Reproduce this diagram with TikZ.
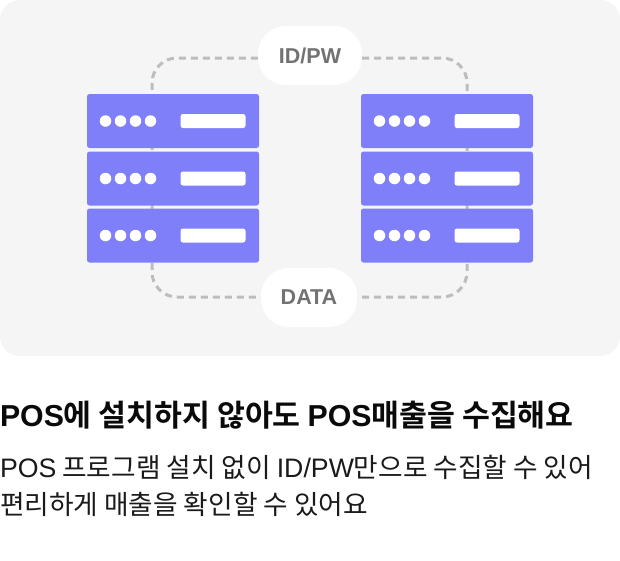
\documentclass[tikz,border=0pt]{standalone}
\usepackage{fontspec}
\setmainfont{Noto Sans CJK KR}[BoldFont={Noto Sans CJK KR Bold}]
\newfontfamily\lat{Liberation Sans}
\pgfdeclarelayer{backdrop}
\pgfdeclarelayer{conn}
\pgfsetlayers{backdrop,conn,main}
\definecolor{panelbg}{HTML}{F5F5F5}
\definecolor{serverfill}{HTML}{7F7FFA}
\definecolor{dashcol}{HTML}{BDBDBD}
\definecolor{labelcol}{HTML}{727272}
\definecolor{titlecol}{HTML}{0A0A0A}
\definecolor{bodycol}{HTML}{1A1A1A}
\tikzset{
  serverbox/.style={draw=none,fill=serverfill,rounded corners=2.5pt,minimum width=172pt,minimum height=54pt,inner sep=0pt},
  pill/.style={fill=white,rounded corners=28pt,inner sep=0pt,font=\fontsize{21.5}{22}\selectfont\bfseries\lat,text=labelcol},
  link/.style={draw=dashcol,line width=3pt,dash pattern=on 7pt off 5pt,rounded corners=25pt},
  led/.style={circle,fill=white,minimum size=11.5pt,inner sep=0pt},
  slot/.style={fill=white,rounded corners=2.5pt,minimum width=65pt,minimum height=14pt,inner sep=0pt},
  txt/.style={anchor=base west,inner sep=0pt,outer sep=0pt}
}
\begin{document}
\begin{tikzpicture}[x=1pt,y=-1pt]
\useasboundingbox (0,0) rectangle (620,560);
\begin{pgfonlayer}{backdrop}
  \fill[white] (0,0) rectangle (620,560);
  \fill[panelbg,rounded corners=20pt] (0,0) rectangle (620,356);
\end{pgfonlayer}
% servers
\foreach \side/\cx in {l/173,r/447}{
  \foreach \n/\cy in {1/121,2/178.5,3/235.5}{
    \node[serverbox] (\side\n) at (\cx,\cy) {};
    \foreach \k/\dx in {1/-67.5,2/-52.5,3/-37.5,4/-22.5}{
      \node[led] (\side\n led\k) at (\cx+\dx,\cy) {};
    }
    \node[slot] (\side\n slot) at (\cx+40,\cy) {};
  }
}
% pills
\node[pill,minimum width=104pt,minimum height=59pt] (idpw) at (310,55.5) {ID/PW};
\node[pill,minimum width=96pt,minimum height=59pt] (data) at (309,297.5) {DATA};
% connectors
\coordinate (lx) at (152,0);
\coordinate (rx) at (467,0);
\coordinate (topy) at (0,58);
\coordinate (boty) at (0,297);
\begin{pgfonlayer}{conn}
  \draw[link] (idpw.west |- topy) -- (lx |- topy) -- (lx |- boty) -- (data.west |- boty);
  \draw[link] (idpw.east |- topy) -- (rx |- topy) -- (rx |- boty) -- (data.east |- boty);
\end{pgfonlayer}
% texts
\node[txt,text=titlecol,font=\fontsize{30.3}{30}\selectfont\bfseries] (title) at (0,426) {{\lat POS}에 설치하지 않아도 {\lat POS}매출을 수집해요};
\node[txt,text=bodycol,font=\fontsize{26.7}{27}\selectfont] (line1) at (0,477) {{\lat POS} 프로그램 설치 없이 {\lat ID/PW}만으로 수집할 수 있어};
\node[txt,text=bodycol,font=\fontsize{26.7}{27}\selectfont] (line2) at (0,514) {편리하게 매출을 확인할 수 있어요};
\end{tikzpicture}
\end{document}
